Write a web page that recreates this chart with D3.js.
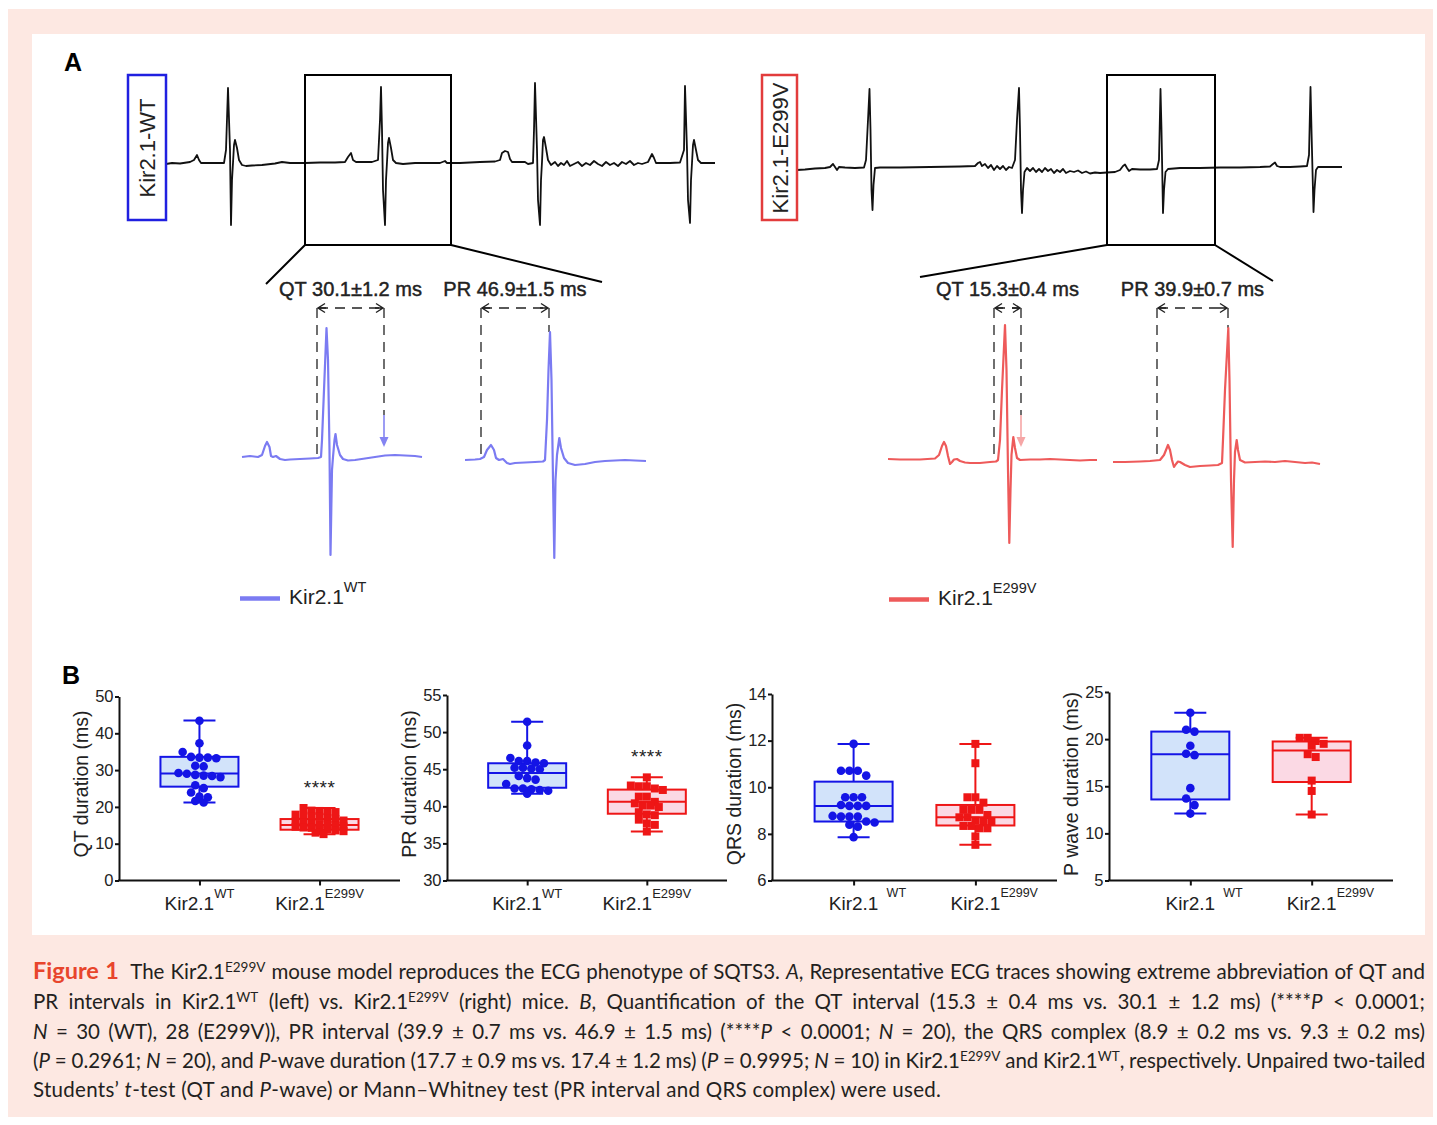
<!DOCTYPE html>
<html>
<head>
<meta charset="utf-8">
<script src="https://cdn.jsdelivr.net/npm/d3@7"></script>
<style>
  body { margin: 0; background: #fff; }
  svg { display: block; }
</style>
</head>
<body>
<svg id="fig" width="1437" height="1125"></svg>
<script>

var FONT = "'Liberation Sans', Arial, Helvetica, sans-serif";
var CAPTION_FONT = "Lato, 'Open Sans', sans-serif";

var colors = {
    pink: "#fde8e2",
    ink: "#111111",
    wtTrace: "#7b7bf2",
    e299vTrace: "#ee5a5a",
    wtArrow: "#8484f2",
    e299vArrow: "#f6a6a6",
    wtStroke: "#1414e6",
    wtFill: "#d2e3fa",
    e299vStroke: "#ee1616",
    e299vFill: "#fbd9e4",
    wtLabelBox: "#2020e0",
    e299vLabelBox: "#e23c3c",
    captionTitle: "#e8452c",
    captionText: "#231f20"
};

// ---------------- Panel A data: ECG traces as [time (ms), amplitude (a.u.)]

var wtFullTrace = [[0,-1],[6,0],[14,-0.5],[24,1],[28,3],[31,8],[33,3],[35,0],[39,0],[49,0],[58,0],[60,13],[62,75],[64,13],[65,-62],[66,-17],[67,0],[68,18],[69,23],[71,15],[73,3],[76,-2],[80,-3],[86,-2.5],[96,-2],[109,-0.5],[116,1],[124,0],[139,0],[154,0.5],[169,0.5],[179,1],[182,6],[185,10],[187,3],[190,1],[196,1],[206,1],[212,3],[214,43],[215,76],[216,33],[217,-27],[219,-62],[220,-17],[221,1],[222,20],[223,25],[225,15],[227,3],[230,0],[237,-1],[249,0],[264,0],[274,0],[279,2],[281,0],[294,0],[314,1],[329,1.5],[334,3],[336,10],[339,12],[342,11],[344,4],[346,1],[352,1],[359,1],[362,-1],[367,0],[368,33],[369,80],[371,13],[372,-37],[374,-62],[375,-17],[376,1],[377,23],[378,26],[380,15],[382,3],[385,-2],[389,1],[392,-3],[395,0],[398,-2],[401,2],[404,-3],[408,-1],[412,1],[416,-3],[420,0],[424,-2],[428,2],[432,-1],[436,-3],[440,1],[444,-2],[448,0],[452,-3],[456,1],[460,-1],[464,2],[468,-2],[472,0],[476,-1],[482,1],[484,5],[486,9],[488,5],[490,0],[494,0],[504,0],[514,0.5],[518,13],[519,77],[521,13],[522,-37],[524,-60],[525,-17],[526,0],[527,18],[528,23],[530,13],[532,3],[535,0],[542,0],[549,0]];

var e299vFullTrace = [[0,-1],[8,-0.5],[18,0.5],[28,1],[33,2],[36,5],[38,2],[40,-1],[42,2],[48,1.5],[58,1],[67,1.5],[69,9],[71,49],[72.5,80],[73.5,39],[74.5,-21],[75.5,-41],[76.5,-16],[78,1],[83,1.5],[103,1.5],[133,2],[163,2.5],[178,3],[181,6],[183,7],[185,3],[188,5],[191,1],[194,4],[197,-1],[200,3],[203,0],[206,3],[209,-1],[212,2],[215,1],[218,9],[220,49],[222,81],[223,39],[224,-21],[225,-44],[226,-21],[227.5,-3],[230,1],[233,-2],[236,1],[239,-3],[242,0],[245,-3],[248,1],[251,-2],[254,0],[257,-4],[260,-1],[263,-3],[266,0],[269,-4],[273,-2],[277,-3],[281,-1.5],[285,-4],[289,-2.5],[293,-4.5],[298,-3.5],[303,-4],[310,-3.5],[318,-3],[323,-1],[326,3],[328,4.5],[330,1],[332,-2],[335,0],[343,-0.5],[353,-0.5],[360,0],[362,9],[363.5,80],[364.5,39],[366,-44],[367,-21],[368.5,-3],[371,0],[383,1],[403,1],[423,1.5],[443,1.5],[463,2],[473,2.5],[476,5],[478,6.5],[480,3],[483,2],[493,2],[503,2.5],[510,3],[512,14],[513.5,82],[514.5,39],[516.5,-43],[517.5,-21],[519,-1],[521,2],[528,2],[538,2],[545,2]];

// single beats shown enlarged
var wtBeatQT = [[0,1],[8,2],[16,1],[20,3],[23,12],[25,16],[27.5,11],[29,2],[31,1],[34,2],[38,-1],[43,-2],[48,-1.5],[58,-1],[68,-0.5],[76,0],[79,1],[80,18],[82,68],[84.5,130],[86,98],[87.5,8],[88.5,-97],[90,-12],[91,1],[92.5,18],[93.5,24],[95,13],[98,3],[101,-1],[106,-2.5],[113,-2],[123,-0.5],[133,1],[143,2.5],[153,3],[163,2.5],[173,2],[180,1]];
var wtBeatPR = [[0,-2],[10,-1.5],[15,-1],[19,1],[22,8],[26,13],[29,8],[31,0],[34,-2],[38,-1],[42,-5],[45,-6],[50,-5],[60,-4.5],[70,-4],[78,-3.5],[80,-2],[82,38],[83.5,88],[85,126],[86.5,78],[88,-22],[89.3,-100],[90.5,-22],[92,3],[94.3,20],[96,10],[99,0],[103,-5],[110,-7],[120,-6],[130,-4],[140,-3],[150,-2.5],[160,-2],[170,-2.5],[181,-3]];
var e299vBeatQT = [[0,-1],[12,-1.5],[22,-1.5],[32,-1.5],[47,-0.5],[51,3],[54,12],[56,16],[58,12],[60,2],[62,-6],[64,-4],[66,-1.5],[69,-1],[72,-3],[77,-4.5],[82,-5],[92,-5],[102,-4],[108,-3.5],[110,-2],[112,18],[114,68],[117,133],[118.5,88],[120,-12],[121.3,-85],[122.5,-32],[123.5,3],[125.3,21],[127,10],[129,0],[132,-2],[142,-1.5],[152,-1.5],[162,-1],[172,-1.5],[182,-2],[192,-2.5],[202,-2],[209,-2]];
var e299vBeatPR = [[0,-4],[12,-4],[27,-3.5],[37,-3],[47,-2],[51,3],[55,13],[57,8],[59,-2],[61,-9],[63,-6],[65,-3.5],[67,-4],[72,-7],[77,-9],[87,-8],[97,-7.5],[105,-7],[109,-5],[110,18],[112,68],[115.3,130],[116.5,78],[118,-22],[119.7,-89],[121,-22],[122,6],[123.7,18],[125,8],[127,-2],[132,-4.5],[142,-4],[152,-3.5],[162,-4],[172,-3],[182,-4],[192,-5],[199,-4.5],[207,-6]];

// interval markers [start, end] in ms, within each enlarged beat
var wtQT = [75, 142];
var wtPR = [16, 84];
var e299vQT = [106, 133];
var e299vPR = [44, 115];

// boxed part of each long trace (ms)
var wtWindow = [139, 285];
var e299vWindow = [310, 418];

var intervalLabels = ["QT 30.1\u00b11.2 ms", "PR 46.9\u00b11.5 ms", "QT 15.3\u00b10.4 ms", "PR 39.9\u00b10.7 ms"];

// ---------------- Panel B data (ms)

var groups = ["WT", "E299V"];

var qtWT = [43.4, 37.3, 34.9, 33.6, 33.4, 33.4, 33.2, 31.2, 31.0, 29.2, 29.0, 28.7, 28.5, 28.4, 28.1, 25.9, 25.1, 23.9, 22.8, 22.6, 21.6, 21.2];
var qtE299V = [19.7, 19.0, 18.9, 18.8, 18.6, 17.9, 17.6, 17.5, 17.3, 16.9, 16.6, 16.3, 16.0, 15.7, 15.5, 15.3, 15.1, 14.9, 14.7, 14.6, 14.4, 14.3, 14.1, 13.9, 13.6, 13.4, 13.0, 12.6];
var prWT = [51.4, 48.2, 46.5, 46.1, 46.1, 45.9, 45.8, 45.2, 45.2, 45.1, 45.0, 44.1, 43.8, 43.6, 43.0, 42.4, 42.4, 42.3, 42.2, 42.1, 41.7];
var prE299V = [43.9, 42.8, 42.7, 42.7, 42.4, 42.2, 41.3, 41.3, 40.6, 40.4, 40.1, 40.1, 39.9, 39.2, 38.9, 38.8, 38.2, 37.7, 37.5, 36.6];
var qrsWT = [11.86, 10.71, 10.71, 10.71, 10.5, 9.57, 9.57, 9.57, 9.24, 9.2, 9.2, 9.2, 8.77, 8.74, 8.74, 8.74, 8.53, 8.49, 8.39, 8.31, 7.86];
var qrsE299V = [11.86, 11.03, 9.57, 9.57, 9.34, 9.03, 9.03, 9.03, 8.81, 8.71, 8.71, 8.57, 8.53, 8.53, 8.34, 8.34, 8.24, 8.24, 7.89, 7.53];
var pWT = [22.8, 21.0, 20.8, 19.3, 18.45, 18.3, 14.8, 13.7, 13.0, 12.1];
var pE299V = [20.14, 20.14, 19.8, 19.5, 19.3, 18.4, 18.1, 15.6, 14.5, 12.0];

// box statistics [min, Q1, median, Q3, max]
var qtBoxWT = [21.2, 25.5, 29.1, 33.6, 43.5];
var qtBoxE299V = [12.6, 13.8, 15.1, 16.7, 19.7];
var prBoxWT = [41.7, 42.5, 44.5, 45.8, 51.4];
var prBoxE299V = [36.6, 39.0, 40.6, 42.25, 43.9];
var qrsBoxWT = [7.86, 8.53, 9.2, 10.24, 11.86];
var qrsBoxE299V = [7.53, 8.36, 8.71, 9.24, 11.86];
var pBoxWT = [12.1, 13.6, 18.4, 20.8, 22.8];
var pBoxE299V = [12.0, 15.45, 18.8, 19.75, 20.14];

var qtTicks = [0, 10, 20, 30, 40, 50];
var prTicks = [30, 35, 40, 45, 50, 55];
var qrsTicks = [6, 8, 10, 12, 14];
var pTicks = [5, 10, 15, 20, 25];

var yLabels = ["QT duration (ms)", "PR duration (ms)", "QRS duration (ms)", "P wave duration (ms)"];
var sigLabels = ["****", "****", "", ""];

// ---------------- caption, one array of runs per printed line
var captionLines = [
    [["Figure 1", "b"], ["  The Kir2.1", ""], ["E299V", "sup"], [" mouse model reproduces the ECG phenotype of SQTS3. ", ""], ["A", "i"], [", Representative ECG traces showing extreme abbreviation of QT and", ""]],
    [["PR intervals in Kir2.1", ""], ["WT", "sup"], [" (left) vs. Kir2.1", ""], ["E299V", "sup"], [" (right) mice. ", ""], ["B", "i"], [", Quantification of the QT interval (15.3 \u00b1 0.4 ms vs. 30.1 \u00b1 1.2 ms) (****", ""], ["P", "i"], [" < 0.0001;", ""]],
    [["N", "i"], [" = 30 (WT), 28 (E299V)), PR interval (39.9 \u00b1 0.7 ms vs. 46.9 \u00b1 1.5 ms) (****", ""], ["P", "i"], [" < 0.0001; ", ""], ["N", "i"], [" = 20), the QRS complex (8.9 \u00b1 0.2 ms vs. 9.3 \u00b1 0.2 ms)", ""]],
    [["(", ""], ["P", "i"], [" = 0.2961; ", ""], ["N", "i"], [" = 20), and ", ""], ["P", "i"], ["-wave duration (17.7 \u00b1 0.9 ms vs. 17.4 \u00b1 1.2 ms) (", ""], ["P", "i"], [" = 0.9995; ", ""], ["N", "i"], [" = 10) in Kir2.1", ""], ["E299V", "sup"], [" and Kir2.1", ""], ["WT", "sup"], [", respectively. Unpaired two-tailed", ""]],
    [["Students\u2019 ", ""], ["t", "i"], ["-test (QT and ", ""], ["P", "i"], ["-wave) or Mann\u2013Whitney test (PR interval and QRS complex) were used.", ""]]
];

var svg = d3.select("#fig");

// background: pink page, white figure area
svg.append("rect").attr("x", 8).attr("y", 9).attr("width", 1425).attr("height", 1108).attr("fill", colors.pink);
svg.append("rect").attr("x", 32).attr("y", 34).attr("width", 1393).attr("height", 901).attr("fill", "#fff");

// arrow heads for the interval markers
var defs = svg.append("defs");
defs.append("marker")
    .attr("id", "chev")
    .attr("viewBox", "-9 -6 11 12")
    .attr("markerUnits", "userSpaceOnUse")
    .attr("markerWidth", 11).attr("markerHeight", 12)
    .attr("refX", 0).attr("refY", 0)
    .attr("orient", "auto-start-reverse")
    .append("path")
    .attr("d", "M-7,-4.5 L0,0 L-7,4.5 M-8,0 L0,0")
    .attr("fill", "none").attr("stroke", "#222").attr("stroke-width", 1.4);

function panelLetter(t, x, y) {
    svg.append("text").attr("x", x).attr("y", y).text(t)
        .attr("font-family", FONT).attr("font-weight", "bold").attr("font-size", 25).attr("fill", "#000");
}
panelLetter("A", 64, 71);
panelLetter("B", 62, 684);

// ---------------- Panel A, long traces
function drawLongTrace(trace, cfg) {
    var x = d3.scaleLinear().domain(d3.extent(trace, function (d) { return d[0]; })).range([cfg.x0, cfg.x1]);
    var y = d3.scaleLinear().domain([0, 100]).range([cfg.base, cfg.base - 100]);
    var line = d3.line().x(function (d) { return x(d[0]); }).y(function (d) { return y(d[1]); });

    svg.append("path").datum(trace).attr("d", line)
        .attr("fill", "none").attr("stroke", colors.ink).attr("stroke-width", 1.8)
        .attr("stroke-linejoin", "round");

    // zoom window and its connectors
    var wx0 = x(cfg.win[0]), wx1 = x(cfg.win[1]);
    svg.append("rect").attr("x", wx0).attr("y", 75).attr("width", wx1 - wx0).attr("height", 170)
        .attr("fill", "none").attr("stroke", "#000").attr("stroke-width", 2);
    svg.append("line").attr("x1", wx0).attr("y1", 245).attr("x2", cfg.fanLeft[0]).attr("y2", cfg.fanLeft[1])
        .attr("stroke", "#000").attr("stroke-width", 2);
    svg.append("line").attr("x1", wx1).attr("y1", 245).attr("x2", cfg.fanRight[0]).attr("y2", cfg.fanRight[1])
        .attr("stroke", "#000").attr("stroke-width", 2);

    // genotype label box
    svg.append("rect").attr("x", cfg.box[0]).attr("y", 75).attr("width", cfg.box[1] - cfg.box[0]).attr("height", 145)
        .attr("fill", "#fff").attr("stroke", cfg.boxColor).attr("stroke-width", 2.5);
    var cx = (cfg.box[0] + cfg.box[1]) / 2;
    svg.append("text")
        .attr("transform", "translate(" + (cx + 8) + ",148) rotate(-90)")
        .attr("text-anchor", "middle")
        .attr("font-family", FONT).attr("font-size", 22).attr("fill", "#222")
        .text(cfg.label);
}

drawLongTrace(wtFullTrace, {
    x0: 166, x1: 715, base: 163, win: wtWindow,
    fanLeft: [266, 284], fanRight: [602, 282],
    box: [128, 166], boxColor: colors.wtLabelBox, label: "Kir2.1-WT"
});
drawLongTrace(e299vFullTrace, {
    x0: 797, x1: 1342, base: 169, win: e299vWindow,
    fanLeft: [920, 277], fanRight: [1273, 281],
    box: [762, 797], boxColor: colors.e299vLabelBox, label: "Kir2.1-E299V"
});

// ---------------- Panel A, enlarged beats
var yZoom = d3.scaleLinear().domain([0, 130]).range([458, 328]);
var markerY = 308;

var zoomPanels = [
    { trace: wtBeatQT, x0: 242, color: colors.wtTrace, arrow: colors.wtArrow, marks: wtQT, kind: "QT", label: intervalLabels[0] },
    { trace: wtBeatPR, x0: 465, color: colors.wtTrace, arrow: colors.wtArrow, marks: wtPR, kind: "PR", label: intervalLabels[1] },
    { trace: e299vBeatQT, x0: 888, color: colors.e299vTrace, arrow: colors.e299vArrow, marks: e299vQT, kind: "QT", label: intervalLabels[2] },
    { trace: e299vBeatPR, x0: 1113, color: colors.e299vTrace, arrow: colors.e299vArrow, marks: e299vPR, kind: "PR", label: intervalLabels[3] }
];

zoomPanels.forEach(function (p) {
    var x = d3.scaleLinear().domain([0, 180]).range([p.x0, p.x0 + 180]);
    var line = d3.line().x(function (d) { return x(d[0]); }).y(function (d) { return yZoom(d[1]); });
    var xs = x(p.marks[0]), xe = x(p.marks[1]);

    // dashed guides
    svg.append("line").attr("x1", xs).attr("x2", xs).attr("y1", markerY).attr("y2", yZoom(3))
        .attr("stroke", "#222").attr("stroke-width", 1.3).attr("stroke-dasharray", "10,7");
    var endBottom = p.kind === "PR" ? yZoom(d3.max(p.trace, function (d) { return d[1]; })) : yZoom(43);
    svg.append("line").attr("x1", xe).attr("x2", xe).attr("y1", markerY).attr("y2", endBottom)
        .attr("stroke", "#222").attr("stroke-width", 1.3).attr("stroke-dasharray", "10,7");
    svg.append("line").attr("x1", xs + 1).attr("x2", xe - 1).attr("y1", markerY).attr("y2", markerY)
        .attr("stroke", "#222").attr("stroke-width", 1.3).attr("stroke-dasharray", "10,7")
        .attr("marker-start", "url(#chev)").attr("marker-end", "url(#chev)");

    // coloured arrow pointing at the end of the T wave
    if (p.kind === "QT") {
        svg.append("line").attr("x1", xe).attr("x2", xe).attr("y1", yZoom(43)).attr("y2", yZoom(20))
            .attr("stroke", p.arrow).attr("stroke-width", 1.6);
        svg.append("path")
            .attr("d", "M" + (xe - 4.5) + "," + yZoom(21) + " L" + (xe + 4.5) + "," + yZoom(21) + " L" + xe + "," + yZoom(11) + " Z")
            .attr("fill", p.arrow);
    }

    svg.append("path").datum(p.trace).attr("d", line)
        .attr("fill", "none").attr("stroke", p.color).attr("stroke-width", 2.2)
        .attr("stroke-linejoin", "round");

    svg.append("text").attr("x", (xs + xe) / 2).attr("y", 296)
        .attr("text-anchor", "middle")
        .attr("font-family", FONT).attr("font-size", 20).attr("fill", "#222")
        .attr("stroke", "#222").attr("stroke-width", 0.45)
        .text(p.label);
});

// legends
function legend(x, y, color, sup) {
    svg.append("line").attr("x1", x).attr("x2", x + 40).attr("y1", y).attr("y2", y)
        .attr("stroke", color).attr("stroke-width", 4.5);
    var t = svg.append("text").attr("x", x + 49).attr("y", y + 5)
        .attr("font-family", FONT).attr("font-size", 21).attr("fill", "#222");
    t.append("tspan").text("Kir2.1");
    t.append("tspan").attr("dy", -12).attr("font-size", 14.5).text(sup);
}
legend(240, 598.5, colors.wtTrace, "WT");
legend(889, 599.5, colors.e299vTrace, "E299V");

// ---------------- Panel B
var plots = [
    { wt: qtWT, e: qtE299V, boxWT: qtBoxWT, boxE: qtBoxE299V, ticks: qtTicks, label: yLabels[0], sig: sigLabels[0],
      x0: 119, x1: 400, yTop: 696.5, yBottom: 880.5, splitLabels: false },
    { wt: prWT, e: prE299V, boxWT: prBoxWT, boxE: prBoxE299V, ticks: prTicks, label: yLabels[1], sig: sigLabels[1],
      x0: 447, x1: 727, yTop: 695, yBottom: 880.5, splitLabels: false },
    { wt: qrsWT, e: qrsE299V, boxWT: qrsBoxWT, boxE: qrsBoxE299V, ticks: qrsTicks, label: yLabels[2], sig: sigLabels[2],
      x0: 772, x1: 1057, yTop: 694, yBottom: 880.5, splitLabels: true },
    { wt: pWT, e: pE299V, boxWT: pBoxWT, boxE: pBoxE299V, ticks: pTicks, label: yLabels[3], sig: sigLabels[3],
      x0: 1109, x1: 1393, yTop: 692, yBottom: 880.5, splitLabels: true }
];

// spread points that share a row, prism-style
function scatterRows(values, y, d) {
    var sorted = values.slice().sort(d3.descending);
    var rows = [], row = null;
    sorted.forEach(function (v) {
        if (!row || Math.abs(y(v) - y(row[0])) > d * 0.8 || row.length >= 7) {
            row = [v];
            rows.push(row);
        } else {
            row.push(v);
        }
    });
    var out = [];
    rows.forEach(function (r) {
        r.forEach(function (v, i) { out.push({ v: v, dx: (i - (r.length - 1) / 2) * d }); });
    });
    return out;
}

var BOX_W = 78, CAP_W = 32;

plots.forEach(function (p) {
    var x = d3.scalePoint().domain(groups).range([p.x0, p.x1]).padding(0.67);
    var y = d3.scaleLinear().domain(d3.extent(p.ticks)).range([p.yBottom, p.yTop]);
    var g = svg.append("g");

    var series = [
        { key: "WT", values: p.wt, box: p.boxWT, stroke: colors.wtStroke, fill: colors.wtFill, shape: "circle" },
        { key: "E299V", values: p.e, box: p.boxE, stroke: colors.e299vStroke, fill: colors.e299vFill, shape: "square" }
    ];

    series.forEach(function (s) {
        var cx = x(s.key);
        var b = s.box;
        var sg = g.append("g");
        // whiskers
        sg.append("line").attr("x1", cx).attr("x2", cx).attr("y1", y(b[0])).attr("y2", y(b[4]))
            .attr("stroke", s.stroke).attr("stroke-width", 2);
        [b[0], b[4]].forEach(function (v) {
            sg.append("line").attr("x1", cx - CAP_W / 2).attr("x2", cx + CAP_W / 2).attr("y1", y(v)).attr("y2", y(v))
                .attr("stroke", s.stroke).attr("stroke-width", 2);
        });
        // box
        sg.append("rect").attr("x", cx - BOX_W / 2).attr("y", y(b[3]))
            .attr("width", BOX_W).attr("height", y(b[1]) - y(b[3]))
            .attr("fill", s.fill).attr("stroke", s.stroke).attr("stroke-width", 2);
        // points
        var pts = scatterRows(s.values, y, s.shape === "circle" ? 8.4 : 8);
        if (s.shape === "circle") {
            sg.selectAll("circle.pt").data(pts).enter().append("circle")
                .attr("class", "pt")
                .attr("cx", function (d) { return cx + d.dx; })
                .attr("cy", function (d) { return y(d.v); })
                .attr("r", 4.3)
                .attr("fill", s.stroke);
        } else {
            sg.selectAll("rect.pt").data(pts).enter().append("rect")
                .attr("class", "pt")
                .attr("x", function (d) { return cx + d.dx - 4; })
                .attr("y", function (d) { return y(d.v) - 4; })
                .attr("width", 8).attr("height", 8)
                .attr("fill", s.stroke);
        }
        // median
        sg.append("line").attr("x1", cx - BOX_W / 2).attr("x2", cx + BOX_W / 2).attr("y1", y(b[2])).attr("y2", y(b[2]))
            .attr("stroke", s.stroke).attr("stroke-width", 2);
    });

    // significance
    if (p.sig) {
        g.append("text").attr("x", x("E299V")).attr("y", y(p.boxE[4]) - 14)
            .attr("text-anchor", "middle")
            .attr("font-family", FONT).attr("font-size", 19).attr("letter-spacing", 0.5).attr("fill", "#222")
            .text(p.sig);
    }

    // axes
    var ya = g.append("g").attr("transform", "translate(" + p.x0 + ",0)")
        .call(d3.axisLeft(y).tickValues(p.ticks).tickSize(4).tickSizeOuter(0).tickPadding(1.5));
    var xa = g.append("g").attr("transform", "translate(0," + p.yBottom + ")")
        .call(d3.axisBottom(x).tickSize(5).tickSizeOuter(0).tickFormat(""));
    [ya, xa].forEach(function (a) {
        a.select(".domain").attr("stroke", "#111").attr("stroke-width", 2);
        a.selectAll(".tick line").attr("stroke", "#111").attr("stroke-width", 2);
    });
    ya.attr("font-size", null).attr("font-family", null);
    ya.selectAll(".tick text")
        .attr("font-family", FONT).attr("font-size", 16.5).attr("fill", "#222");
    xa.select(".domain").attr("d", "M" + (p.x0 - 1) + ",0H" + p.x1);

    // category labels
    groups.forEach(function (k) {
        var sup = k === "WT" ? "WT" : "E299V";
        if (!p.splitLabels) {
            var t = g.append("text").attr("x", x(k)).attr("y", 910)
                .attr("text-anchor", "middle")
                .attr("font-family", FONT).attr("font-size", 19).attr("fill", "#222");
            t.append("tspan").text("Kir2.1");
            t.append("tspan").attr("dy", -12).attr("font-size", 13).text(sup);
        } else {
            g.append("text").attr("x", x(k)).attr("y", 910)
                .attr("text-anchor", "middle")
                .attr("font-family", FONT).attr("font-size", 19).attr("fill", "#222")
                .text("Kir2.1");
            g.append("text").attr("x", x(k) + (k === "WT" ? 33 : 25)).attr("y", 897)
                .attr("font-family", FONT).attr("font-size", 12.5).attr("fill", "#222")
                .text(sup);
        }
    });

    // y title
    g.append("text")
        .attr("transform", "translate(" + (p.x0 - 38 + 7) + "," + 784 + ") rotate(-90)")
        .attr("text-anchor", "middle")
        .attr("font-family", FONT).attr("font-size", 19.5).attr("fill", "#222")
        .text(p.label);
});

// ---------------- caption, justified by word spacing
var CAPTION_X = 33, CAPTION_W = 1392;
var captionBaselines = [979, 1009, 1038.5, 1068, 1097];
captionLines.forEach(function (runs, i) {
    var last = i === captionLines.length - 1;
    var t = svg.append("text")
        .attr("x", CAPTION_X).attr("y", captionBaselines[i])
        .attr("font-family", CAPTION_FONT).attr("font-size", 20.5)
        .attr("fill", colors.captionText)
        .style("white-space", "pre");
    if (last) t.attr("letter-spacing", 0.3);
    var raised = false;
    runs.forEach(function (r) {
        var s = t.append("tspan").text(r[0]);
        if (r[1] === "b") {
            s.attr("font-weight", "bold").attr("font-size", 23.5).attr("fill", colors.captionTitle);
        } else if (r[1] === "i") {
            s.attr("font-style", "italic");
        }
        if (r[1] === "sup") {
            s.attr("font-size", 13.5).attr("dy", -7.5);
            raised = true;
        } else if (raised) {
            s.attr("dy", 7.5);
            raised = false;
        }
    });
    if (!last) {
        var natural = t.node().getComputedTextLength();
        var spaces = (t.text().match(/ /g) || []).length;
        t.attr("word-spacing", ((CAPTION_W - natural) / spaces).toFixed(2));
        var after = t.node().getComputedTextLength();
        if (Math.abs(after - CAPTION_W) > 4) {
            t.attr("word-spacing", null)
                .attr("textLength", CAPTION_W).attr("lengthAdjust", "spacing");
        }
    }
});

</script>
</body>
</html>
